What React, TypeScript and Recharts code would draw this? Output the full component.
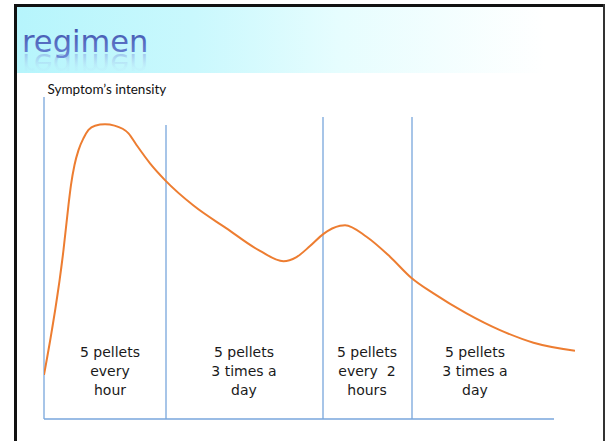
import React from "react";
import { ComposedChart, Line, XAxis, YAxis, ReferenceLine, Scatter } from "recharts";

// Symptom intensity curve (time units, intensity units)
const curveX = [0, 3.9, 4.9, 5.4, 6.1, 6.9, 7.9, 8.9, 10.2, 12.2, 14.1, 16.9, 18.5, 21.2, 24.2, 29.9, 36.5, 43.2, 47.9, 50.5, 53.2, 55.9, 59.2, 60.2, 64.5, 69.2, 73.5, 77.9, 84.5, 91.2, 97.9, 106.2];
const curveY = [13.7, 52.5, 66.5, 72.7, 78.9, 83.5, 87.2, 89.8, 91.1, 91.5, 91.1, 88.7, 85.1, 79.4, 74.2, 66.3, 59.2, 52.2, 49.0, 50.3, 53.7, 57.5, 60.0, 60.2, 56.6, 50.4, 43.8, 39.0, 32.8, 27.6, 23.7, 21.2];

// Regimen phase boundaries (time) and divider heights
const dividerX = [24.4, 55.8, 73.6];
const dividerTop = [91.3, 93.8, 93.8];
const axisEndX = 102;
const axisTopY = 100;

// Phase labels
const phaseLabelX = [13.2, 40, 64.6, 86.2];
const phaseLabelY = [14.9, 14.9, 14.9, 14.9];
const phaseLabels = [
  ["5 pellets", "every", "hour"],
  ["5 pellets", "3 times a", "day"],
  ["5 pellets", "every  2", "hours"],
  ["5 pellets", "3 times a", "day"],
];

const title = "regimen";
const yAxisTitle = "Symptom\u2019s intensity";

const curveData = curveX.map((x, i) => ({ x, y: curveY[i] }));
const labelData = phaseLabelX.map((x, i) => ({ x, y: phaseLabelY[i], lines: phaseLabels[i] }));

const BLUE = "#78a6dc";

const PhaseLabel = (props: any) => {
  const { cx, cy, payload } = props;
  if (cx == null || cy == null) return null;
  const lines: string[] = payload.lines;
  return (
    <text
      x={cx}
      y={cy}
      textAnchor="middle"
      fontFamily="'DejaVu Sans', Verdana, sans-serif"
      fontSize={14}
      fill="#1a1a1a"
      style={{ whiteSpace: "pre" }}
    >
      {lines.map((l, i) => (
        <tspan key={i} x={cx} y={cy + (i - 1) * 19 + 5} xmlSpace="preserve">
          {l}
        </tspan>
      ))}
    </text>
  );
};

export default function App() {
  return (
    <div style={{ position: "absolute", left: 0, top: 0, width: 607, height: 441, background: "#fff", overflow: "hidden" }}>
      {/* header band */}
      <div
        style={{
          position: "absolute",
          left: 16,
          top: 6,
          width: 588,
          height: 67,
          background: "linear-gradient(to right, #b6f5fc 0%, #c9f8fd 30%, #e6fdfe 55%, #ffffff 90%)",
        }}
      />
      {/* title */}
      <svg width={607} height={100} style={{ position: "absolute", left: 0, top: 0 }}>
        <defs>
          <linearGradient id="tg" x1="0" y1="0" x2="0" y2="1">
            <stop offset="0%" stopColor="#3b4ca8" />
            <stop offset="100%" stopColor="#6c88d6" />
          </linearGradient>
          <linearGradient id="rg" x1="0" y1="0" x2="0" y2="1">
            <stop offset="0%" stopColor="#c0d0f0" stopOpacity={0} />
            <stop offset="40%" stopColor="#a8bbea" stopOpacity={0.08} />
            <stop offset="80%" stopColor="#7f98dc" stopOpacity={0.5} />
            <stop offset="100%" stopColor="#7f98dc" stopOpacity={0.6} />
          </linearGradient>
          <clipPath id="hc">
            <rect x={16} y={52} width={588} height={20.7} />
          </clipPath>
        </defs>
        <g clipPath="url(#hc)">
          <g transform="translate(0,105.4) scale(1,-1)">
            <text x={22} y={51.7} fontFamily="'DejaVu Sans', Verdana, sans-serif" fontSize={30.5} fill="url(#rg)">
              {title}
            </text>
          </g>
        </g>
        <text x={22} y={51.7} fontFamily="'DejaVu Sans', Verdana, sans-serif" fontSize={30.5} fill="url(#tg)">
          {title}
        </text>
        <text x={47.5} y={94.3} fontFamily="Lato, 'Open Sans', sans-serif" fontSize={13.5} fill="#111">
          {yAxisTitle}
        </text>
      </svg>
      {/* slide borders */}
      <div style={{ position: "absolute", left: 14, top: 4, width: 591, height: 2.5, background: "#111" }} />
      <div style={{ position: "absolute", left: 14, top: 4, width: 3, height: 437, background: "#111" }} />
      <div style={{ position: "absolute", left: 603, top: 4, width: 2, height: 437, background: "#333" }} />
      <div style={{ position: "absolute", left: 0, top: 0 }}>
        <ComposedChart width={607} height={441} data={curveData} margin={{ top: 97, right: 32, bottom: 22, left: 44 }}>
          <XAxis type="number" dataKey="x" domain={[0, 106.2]} hide allowDataOverflow />
          <YAxis type="number" domain={[0, 100]} hide allowDataOverflow />
          <ReferenceLine segment={[{ x: 0, y: 0 }, { x: 0, y: axisTopY }]} stroke={BLUE} strokeWidth={1.3} />
          <ReferenceLine segment={[{ x: 0, y: 0 }, { x: axisEndX, y: 0 }]} stroke={BLUE} strokeWidth={1.3} />
          {dividerX.map((dx, i) => (
            <ReferenceLine key={i} segment={[{ x: dx, y: 0 }, { x: dx, y: dividerTop[i] }]} stroke={BLUE} strokeWidth={1.3} />
          ))}
          <Line
            type="monotone"
            dataKey="y"
            stroke="#ed7d31"
            strokeWidth={2}
            dot={false}
            isAnimationActive={false}
          />
          <Scatter data={labelData} dataKey="y" shape={PhaseLabel} isAnimationActive={false} />
        </ComposedChart>
      </div>
    </div>
  );
}
